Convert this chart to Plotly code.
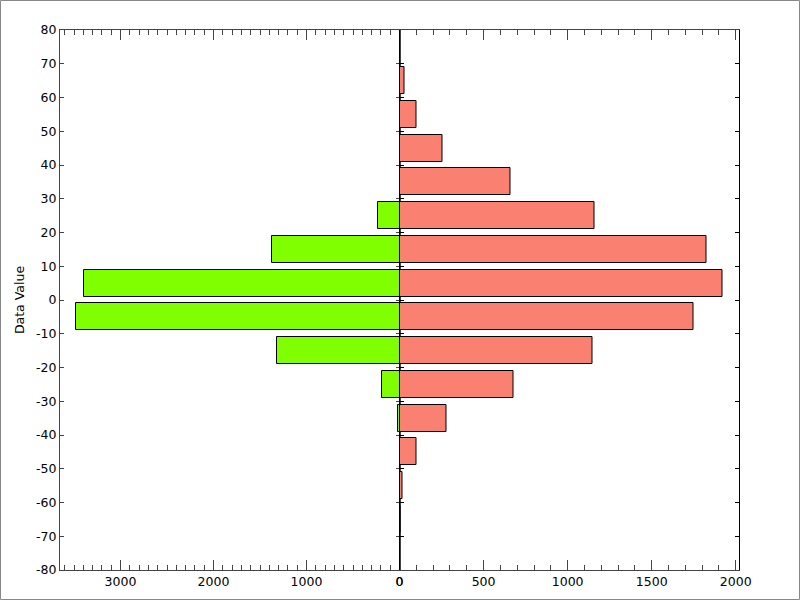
import plotly.graph_objects as go

bin_centers = [75, 65, 55, 45, 35, 25, 15, 5, -5, -15, -25, -35, -45, -55, -65, -75]
right_values = [2, 32, 103, 258, 660, 1160, 1827, 1923, 1750, 1149, 679, 278, 99, 20, 8, 0]
left_values = [0, 0, 0, 0, 0, 236, 1375, 3388, 3477, 1315, 183, 12, 0, 0, 0, 0]

left_ticks = [0, 1000, 2000, 3000]
right_ticks = [0, 500, 1000, 1500, 2000]
y_ticks = list(range(-80, 81, 10))
y_ticktext = [str(v) for v in y_ticks]

left_max = max(left_values) * 1.05
right_max = max(right_values) * 1.05

font = dict(family="DejaVu Sans", size=12.5, color="black")
frame = "#444444"

fig = go.Figure()
fig.add_trace(go.Bar(y=bin_centers, x=left_values, orientation="h", width=8,
                     marker=dict(color="#7FFF00", line=dict(color="black", width=1)),
                     xaxis="x", yaxis="y", showlegend=False))
fig.add_trace(go.Bar(y=bin_centers, x=right_values, orientation="h", width=8,
                     marker=dict(color="#FA8072", line=dict(color="black", width=1)),
                     xaxis="x2", yaxis="y2", showlegend=False))

common_x = dict(showgrid=False, zeroline=False, ticks="inside", ticklen=10, tickcolor=frame,
                showline=True, linecolor=frame, linewidth=1, mirror="ticks", tickfont=font)
common_y = dict(range=[-80, 80], tickvals=y_ticks, ticktext=y_ticktext, ticks="inside", ticklen=4,
                showgrid=False, zeroline=False, tickfont=font)
fig.update_layout(
    width=800, height=600,
    margin=dict(l=60, r=61, t=30, b=30),
    paper_bgcolor="white", plot_bgcolor="white",
    font=font,
    bargap=0,
    xaxis=dict(domain=[0, 0.5], range=[left_max, 0], tickvals=left_ticks,
               minor=dict(dtick=100, ticks="inside", ticklen=5, tickcolor=frame, showgrid=False),
               anchor="y", **common_x),
    xaxis2=dict(domain=[0.5, 1], range=[0, right_max], tickvals=right_ticks,
                minor=dict(dtick=100, ticks="inside", ticklen=5, tickcolor=frame, showgrid=False),
                anchor="y2", **common_x),
    yaxis=dict(anchor="x", side="left", showline=True, linecolor=frame, tickcolor=frame, mirror="ticks",
               title=dict(text="Data Value", font=font, standoff=8), **common_y),
    yaxis2=dict(anchor="x2", side="left", showline=True, linecolor="black", tickcolor="black",
                mirror="ticks", showticklabels=False, **common_y),
    yaxis3=dict(overlaying="y2", anchor="x2", side="right", showline=False, **{**common_y, "ticks": ""}),
)

pw, ph = 800 - 60 - 61, 600 - 30 - 30
fig.add_shape(type="rect", xref="paper", yref="paper",
              x0=-(60 - 0.5) / pw, x1=(800 - 60 - 0.5) / pw, y0=-(30 - 0.5) / ph, y1=(600 - 30 - 0.5) / ph,
              line=dict(color="#888888", width=1), fillcolor="rgba(0,0,0,0)", layer="above")

fig.write_html("out.html", config={"displayModeBar": False},
               post_script="document.body.style.margin='0';")
